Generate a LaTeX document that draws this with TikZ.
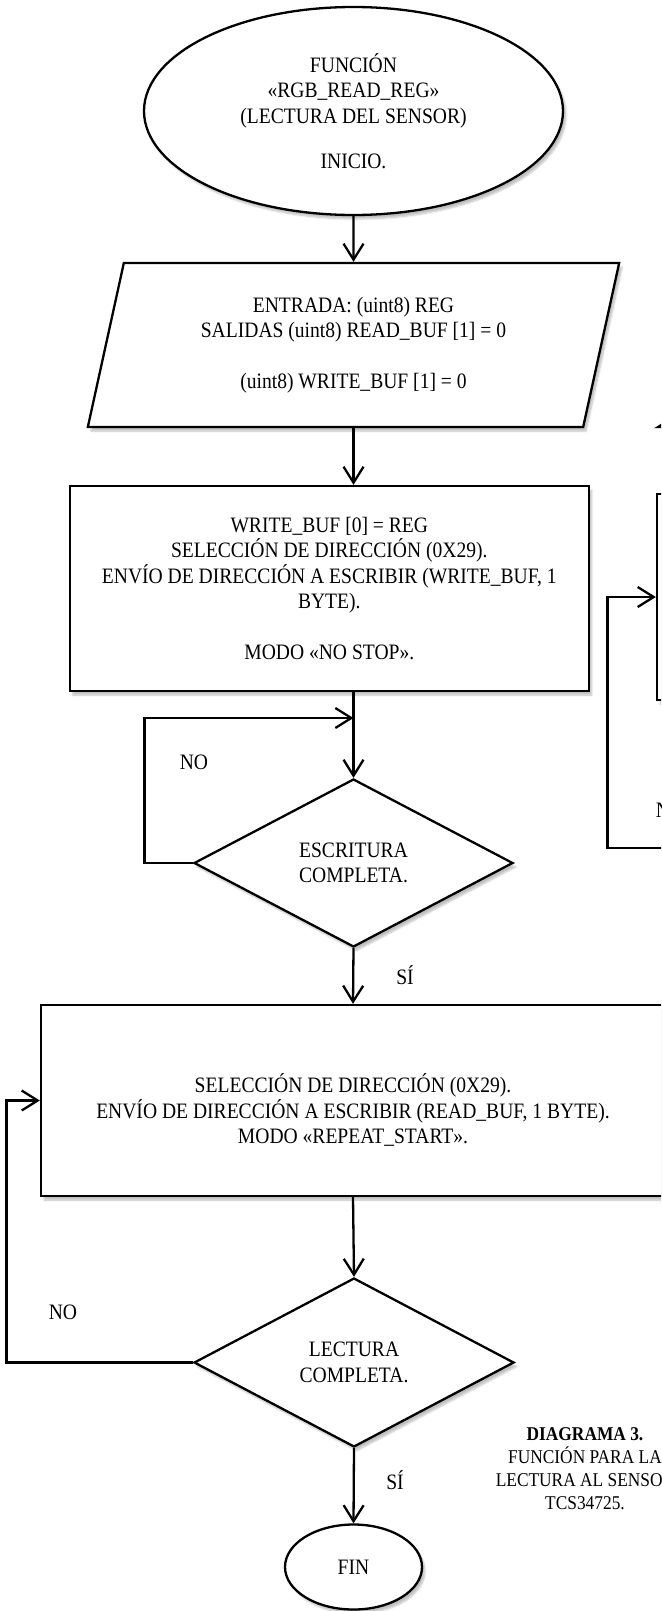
\documentclass[tikz,border=0pt]{standalone}
\usepackage{fontspec}
\setmainfont{Liberation Serif}[FakeStretch=0.89]
\usetikzlibrary{arrows.meta, shapes.geometric, shadows.blur}

\begin{document}
\begin{tikzpicture}[x=1pt, y=-1pt,
  font=\fontsize{22}{25.5}\selectfont,
  forma/.style={draw, line width=2.3pt, fill=white, inner sep=0pt, align=center,
    blur shadow={shadow xshift=3pt, shadow yshift=-4pt, shadow opacity=25, shadow blur steps=6}},
  paralelo/.style={forma, trapezium, trapezium left angle=76, trapezium right angle=104,
    trapezium stretches=true, minimum width=533pt, minimum height=164pt},
  decision/.style={forma, diamond, minimum width=319pt, minimum height=168pt},
  flecha/.style={line width=2.3pt, -{Straight Barb[length=16pt, width=20pt]}},
  etiqueta/.style={inner sep=0pt}]

\useasboundingbox (0,0) rectangle (661,1611);
\clip (0,0) rectangle (661,1611);

% columna principal
\node[forma, ellipse, minimum width=419pt, minimum height=208pt] (inicio) at (353.5,111)
  {FUNCIÓN\\«RGB\_READ\_REG»\\(LECTURA DEL SENSOR)\\[20pt]INICIO.};

\node[paralelo] (entrada) at (353.5,345)
  {ENTRADA: (uint8) REG\\SALIDAS (uint8) READ\_BUF [1] = 0\\[25pt](uint8) WRITE\_BUF [1] = 0};

\node[forma, minimum width=519pt, minimum height=205pt] (escribe) at (329.3,588.5)
  {WRITE\_BUF [0] = REG\\SELECCIÓN DE DIRECCIÓN (0X29).\\ENVÍO DE DIRECCIÓN A ESCRIBIR (WRITE\_BUF, 1\\BYTE).\\[25pt]MODO «NO STOP».};

\node[decision] (escritura) at (353.5,863) {ESCRITURA\\COMPLETA.};

\node[forma, minimum width=624pt, minimum height=191pt] (lectsel) at (353,1100.5)
  {\rule{0pt}{38pt}SELECCIÓN DE DIRECCIÓN (0X29).\\ENVÍO DE DIRECCIÓN A ESCRIBIR (READ\_BUF, 1 BYTE).\\MODO «REPEAT\_START».};

\node[decision, minimum width=320pt, minimum height=169pt] (lectura) at (354,1362.5) {LECTURA\\COMPLETA.};

\node[forma, ellipse, minimum width=137pt, minimum height=85pt] (fin) at (353.5,1567) {FIN};

% columna de la derecha (cortada)
\node[paralelo] (entrada2) at (924.5,345) {\strut};
\node[forma, minimum width=400pt, minimum height=206pt] (regd) at (857,597) {\strut};

% etiquetas
\node[etiqueta] (no1) at (194,762) {NO};
\node[etiqueta] (si1) at (405,975) {SÍ};
\node[etiqueta] (no2) at (63,1312) {NO};
\node[etiqueta] (si2) at (395,1480) {SÍ};
\node[etiqueta] (no3) at (670,810) {NO};
\node[etiqueta, align=center, font=\fontsize{19.5}{23}\selectfont] (titulo) at (585,1469)
  {\textbf{DIAGRAMA 3.}\\FUNCIÓN PARA LA\\LECTURA AL SENSOR\\TCS34725.};

% conectores
\coordinate (j1) at (353.5,718);
\coordinate (rfree) at (700,848);

\draw[flecha] (inicio.south) -- (entrada.north);
\draw[flecha] (entrada.south) -- (entrada.south |- escribe.north);
\draw[flecha] (escritura.north |- escribe.south) -- (escritura.north);
\draw[flecha] (escritura.west) -- ++(-48.5,0) |- (j1);
\draw[flecha] (escritura.south) -- (lectsel.north);
\draw[flecha] (lectsel.south) -- (lectura.north);
\draw[flecha] (lectura.west) -- ++(-186.5,0) |- (lectsel.west);
\draw[flecha] (lectura.south) -- (fin.north);
\draw[flecha] (rfree) -- (607.5,848) |- (regd.west);

\end{tikzpicture}
\end{document}
